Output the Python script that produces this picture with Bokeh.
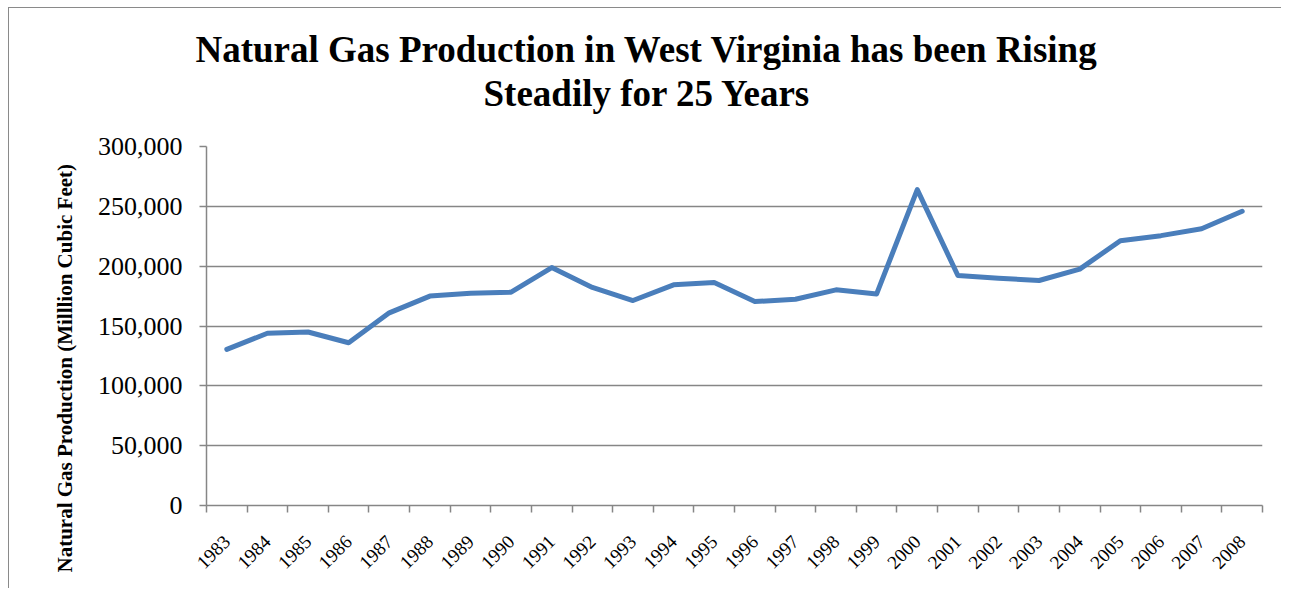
import math
from bokeh.plotting import figure
from bokeh.models import FixedTicker, NumeralTickFormatter, Title, Range1d, ColumnDataSource
from bokeh.embed import file_html
from bokeh.resources import INLINE

# ---- data ----
years = [str(y) for y in range(1983, 2009)]
production = [130500, 143900, 145000, 136000, 161000, 175000, 177400, 178300,
              198800, 182200, 171300, 184400, 186300, 170400, 172400, 180200,
              176800, 264000, 192200, 190000, 188000, 197500, 221300, 225500,
              231300, 245900]
y_ticks = [0, 50000, 100000, 150000, 200000, 250000, 300000]
title_lines = ["Natural Gas Production in West Virginia has been Rising",
               "Steadily for 25 Years"]
y_label = "Natural Gas Production (Milllion Cubic Feet)"

idx = list(range(len(years)))
src = ColumnDataSource(data=dict(x=idx, y=production, year=years))

GRAY = "#868686"
SERIF = "Liberation Serif"

p = figure(width=1273, height=581, output_backend="svg", toolbar_location=None,
           x_range=Range1d(-0.5, len(years) - 0.5), y_range=Range1d(0, 300000),
           min_border_left=197, min_border_right=20, min_border_top=138,
           min_border_bottom=84)
p.styles = {"border-left": "1.5px solid #8a8a8a", "border-top": "1.5px solid #8a8a8a",
            "margin-left": "8px", "margin-top": "7px"}
p.outline_line_color = None
p.background_fill_color = "white"
p.border_fill_color = "white"

p.line("x", "y", source=src, line_color="#4a7ebb", line_width=5,
       line_join="round", line_cap="round")

# x axis: labels at category centres, tick marks at boundaries
xa = p.xaxis[0]
xa.ticker = FixedTicker(ticks=idx, minor_ticks=[i - 0.5 for i in range(len(years) + 1)])
xa.major_label_overrides = {i: y for i, y in zip(idx, years)}
xa.major_tick_in = 0
xa.major_tick_out = 0
xa.minor_tick_in = 0
xa.minor_tick_out = 7
xa.minor_tick_line_color = GRAY
xa.minor_tick_line_width = 1.5
xa.axis_line_color = GRAY
xa.axis_line_width = 1.5
xa.major_label_orientation = math.pi / 4
xa.major_label_text_font = SERIF
xa.major_label_text_font_size = "19px"
xa.major_label_text_color = "black"
xa.major_label_standoff = 26

ya = p.yaxis[0]
ya.ticker = FixedTicker(ticks=y_ticks)
ya.formatter = NumeralTickFormatter(format="0,0")
ya.major_tick_in = 0
ya.major_tick_out = 7
ya.major_tick_line_color = GRAY
ya.major_tick_line_width = 1.5
ya.minor_tick_line_color = None
ya.axis_line_color = GRAY
ya.axis_line_width = 1.5
ya.major_label_text_font = SERIF
ya.major_label_text_font_size = "26px"
ya.major_label_text_color = "black"
ya.major_label_standoff = 17

p.xgrid.grid_line_color = None
p.ygrid.grid_line_color = GRAY
p.ygrid.grid_line_width = 1.5
p.ygrid.ticker = FixedTicker(ticks=y_ticks)

# title line 1 (outermost) uses the built-in title
p.title.text = title_lines[0]
p.title.align = "left"
p.title.offset = -11
p.title.standoff = -65
p.title.text_font = SERIF
p.title.text_font_size = "37px"
p.title.text_font_style = "bold"
p.title.text_color = "black"

# title line 2 sits nearest the frame
p.add_layout(Title(text=title_lines[1], align="left", offset=277, standoff=66,
                   text_font=SERIF, text_font_size="37px", text_font_style="bold",
                   text_color="black"), "above")

p.add_layout(Title(text=y_label, align="left", offset=-67, standoff=36,
                   text_font=SERIF, text_font_size="21px", text_font_style="bold",
                   text_color="black"), "left")

open("out.html", "w").write(file_html(p, INLINE))
